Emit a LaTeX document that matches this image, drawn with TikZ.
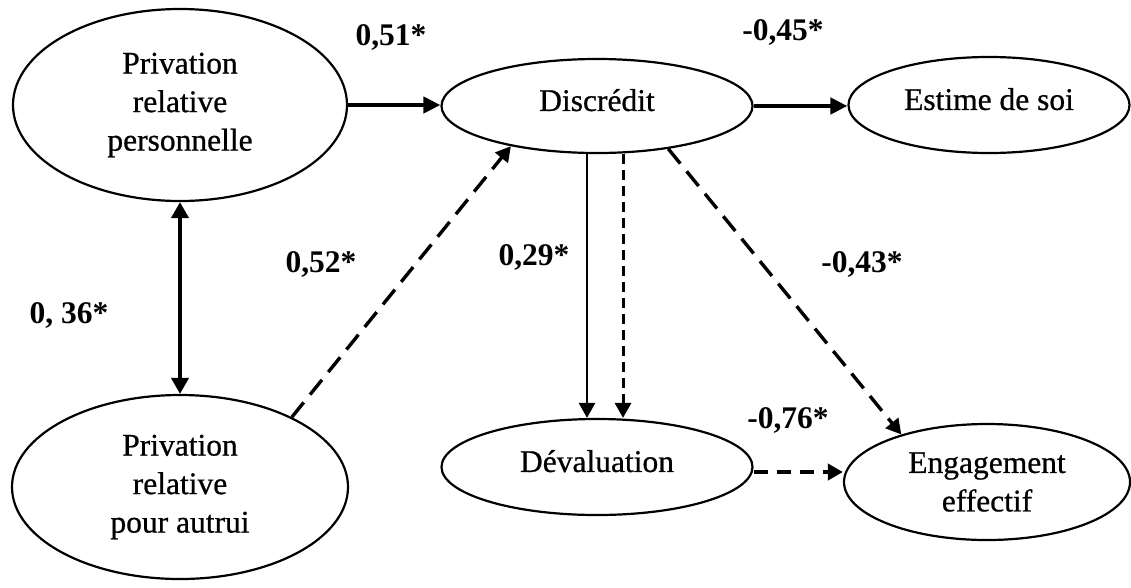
\documentclass[tikz,border=0pt]{standalone}
\usepackage{fontspec}
\setmainfont{Liberation Serif}
\newfontfamily\scanfont[FakeBold=0.7]{Liberation Serif}
\usetikzlibrary{shapes.geometric,arrows.meta}
\begin{document}
\begin{tikzpicture}[x=1pt,y=-1pt,
  var/.style={draw, ellipse, line width=2.2pt, inner sep=0pt, align=center,
    font=\scanfont\fontsize{31.5}{38.5}\selectfont},
  oneline/.style={var, text depth=12pt},
  coef/.style={font=\fontsize{31.5}{36}\selectfont\bfseries, anchor=base, inner sep=0pt},
  tipA/.style={-{Triangle[length=17pt,width=16pt]}},
  tipB/.style={-{Triangle[length=15pt,width=16pt]}},
  bigarrow/.style={line width=4.5pt, tipA},
  bothway/.style={line width=4pt, {Triangle[length=16pt,width=17pt]}-{Triangle[length=16pt,width=17pt]}},
  thinarrow/.style={line width=2.6pt, tipB},
  longdash/.style={line width=3.4pt, dash pattern=on 19pt off 10pt, tipB},
  shortdash/.style={line width=3pt, dash pattern=on 10pt off 6pt, tipB},
  middash/.style={line width=4pt, dash pattern=on 14pt off 9pt, tipB}
]
\useasboundingbox (0,0) rectangle (1131,587);

\node[var, minimum width=334pt, minimum height=192pt] (prp) at (180,105)
  {Privation\\relative\\personnelle};
\node[var, minimum width=336pt, minimum height=184pt] (pra) at (180,487)
  {Privation\\relative\\pour autrui};
\node[oneline, minimum width=311pt, minimum height=94pt] (disc) at (597,106) {Discrédit};
\node[oneline, minimum width=281pt, minimum height=96pt] (est) at (989,105) {Estime de soi};
\node[oneline, minimum width=311pt, minimum height=96pt] (dev) at (597,467) {Dévaluation};
\node[var, minimum width=286pt, minimum height=116pt] (eng) at (987,482) {Engagement\\effectif};

\draw[bigarrow] (prp.east) -- (prp.east -| disc.west);
\draw[bigarrow] (disc.east) -- (disc.east -| est.west);
\draw[bothway] (prp.south) -- (pra.north);
\draw[thinarrow] ([xshift=-10pt]disc.south) -- ([xshift=-10pt]dev.north);
\draw[shortdash] ([xshift=26pt]disc.south) -- ([xshift=26pt]dev.north);
\draw[longdash] (pra.32) -- (disc.205);
\draw[longdash] (disc.-31) -- (eng.151);
\draw[middash] ([yshift=-5pt]dev.east) -- ([yshift=-5pt]dev.east -| eng.west);

\node[coef] (l51) at (391,45) {0,51*};
\node[coef] (l45) at (783,40) {-0,45*};
\node[coef] (l36) at (69,323) {0, 36*};
\node[coef] (l52) at (321,272) {0,52*};
\node[coef] (l29) at (534,265) {0,29*};
\node[coef] (l43) at (862,272) {-0,43*};
\node[coef] (l76) at (788,428) {-0,76*};
\end{tikzpicture}
\end{document}
